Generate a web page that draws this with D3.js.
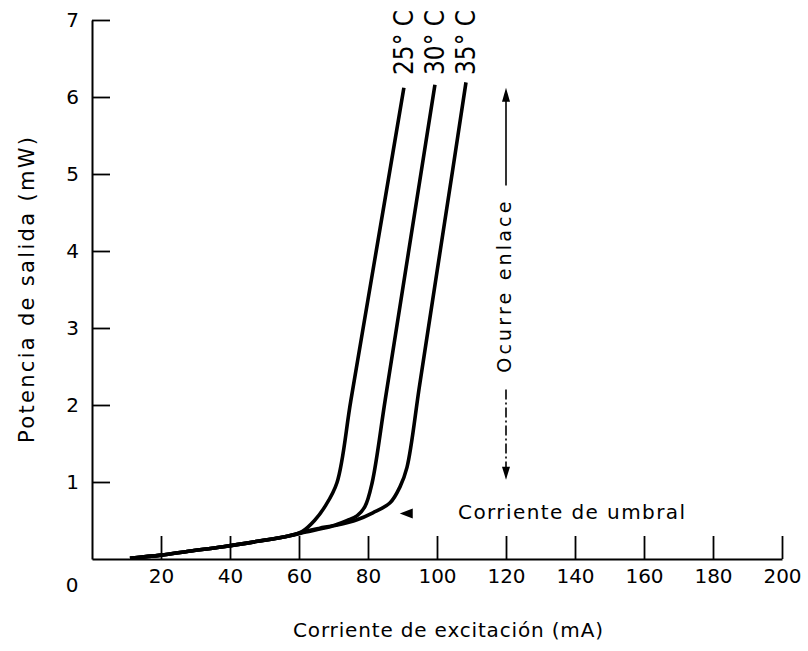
<!DOCTYPE html>
<html>
<head>
<meta charset="utf-8">
<script src="https://cdn.jsdelivr.net/npm/d3@7"></script>
<style>
  body { margin: 0; background: #fff; }
  svg { display: block; }
</style>
</head>
<body>
<script>
// chart values
var currentTicks = [20, 40, 60, 80, 100, 120, 140, 160, 180, 200];
var powerTicks = [1, 2, 3, 4, 5, 6, 7];

var current25 = [11, 20, 28, 38, 48, 57, 61, 64.5, 67.5, 71, 75, 80, 85, 90.4];
var power25   = [0.01, 0.05, 0.1, 0.16, 0.23, 0.3, 0.36, 0.5, 0.68, 0.99, 2.05, 3.37, 4.69, 6.12];

var current30 = [11, 20, 28, 38, 48, 57, 62, 66, 70.4, 74, 76.8, 79.1, 81.2, 85, 90, 95, 99.4];
var power30   = [0.01, 0.05, 0.1, 0.16, 0.23, 0.3, 0.36, 0.4, 0.44, 0.5, 0.56, 0.68, 0.99, 2.07, 3.49, 4.91, 6.16];

var current35 = [11, 20, 28, 38, 48, 57, 62, 69, 76.8, 81.4, 86.4, 89.3, 91.3, 95, 100, 104.5, 108.4];
var power35   = [0.01, 0.05, 0.1, 0.16, 0.23, 0.3, 0.35, 0.42, 0.51, 0.6, 0.73, 0.94, 1.19, 2.27, 3.73, 5.04, 6.19];

var curveNames = ["25° C", "30° C", "35° C"];

var width = 808;
var height = 651;
var font = "DejaVu Sans, Verdana, sans-serif";

var svg = d3.select("body").append("svg")
    .attr("width", width)
    .attr("height", height);

var x = d3.scaleLinear().domain([0, 200]).range([92, 782]);
var y = d3.scaleLinear().domain([0, 7]).range([559, 20]);

// x axis, ticks pointing up into the plot
var xAxis = svg.append("g")
    .attr("transform", "translate(0," + y(0) + ")")
    .call(d3.axisBottom(x).tickValues(currentTicks).tickFormat(d3.format("d"))
        .tickSize(-23).tickSizeOuter(0).tickPadding(10));

// y axis, ticks pointing right
var yAxis = svg.append("g")
    .attr("transform", "translate(" + x(0) + ",0)")
    .call(d3.axisLeft(y).tickValues(powerTicks).tickFormat(d3.format("d"))
        .tickSize(-18).tickSizeOuter(0).tickPadding(13));

[xAxis, yAxis].forEach(function(g) {
    g.select(".domain").attr("stroke", "#000").attr("stroke-width", 2);
    g.selectAll(".tick line").attr("stroke", "#000").attr("stroke-width", 1.8);
    g.selectAll(".tick text")
        .attr("font-family", font)
        .attr("font-size", 20)
        .attr("fill", "#000");
});

// origin label sits in the corner
svg.append("text")
    .attr("x", x(0) - 20)
    .attr("y", y(0) + 33)
    .attr("text-anchor", "middle")
    .attr("font-family", font)
    .attr("font-size", 20)
    .text("0");

// curves
var line = d3.line()
    .x(function(d) { return x(d[0]); })
    .y(function(d) { return y(d[1]); })
    .curve(d3.curveCatmullRom.alpha(0.5));

var series = [
    d3.zip(current25, power25),
    d3.zip(current30, power30),
    d3.zip(current35, power35)
];

svg.selectAll("path.curve")
    .data(series)
    .enter()
    .append("path")
    .attr("class", "curve")
    .attr("d", line)
    .attr("fill", "none")
    .attr("stroke", "#000")
    .attr("stroke-width", 3.6)
    .attr("stroke-linejoin", "round");

// temperature labels above each curve, reading upward
svg.selectAll("text.temp")
    .data(series)
    .enter()
    .append("text")
    .attr("class", "temp")
    .attr("transform", function(d) {
        var last = d[d.length - 1];
        return "translate(" + (x(last[0]) + 9) + ",75) rotate(-90)";
    })
    .attr("font-family", font)
    .attr("font-size", 26)
    .attr("textLength", 65)
    .attr("lengthAdjust", "spacingAndGlyphs")
    .text(function(d, i) { return curveNames[i]; });

// "Ocurre enlace" double arrow at 120 mA
var ax = x(120);
svg.append("line")
    .attr("x1", ax).attr("x2", ax)
    .attr("y1", y(6.05)).attr("y2", y(4.85))
    .attr("stroke", "#000").attr("stroke-width", 1.6);
svg.append("path")
    .attr("d", "M" + ax + "," + y(6.12) + "L" + (ax + 4) + "," + (y(6.12) + 14) + "L" + (ax - 4) + "," + (y(6.12) + 14) + "Z")
    .attr("fill", "#000");
svg.append("line")
    .attr("x1", ax).attr("x2", ax)
    .attr("y1", y(2.2)).attr("y2", y(1.1))
    .attr("stroke", "#000").attr("stroke-width", 1.6)
    .attr("stroke-dasharray", "10,3,2,3");
svg.append("path")
    .attr("d", "M" + ax + "," + y(1.03) + "L" + (ax + 4) + "," + (y(1.03) - 13) + "L" + (ax - 4) + "," + (y(1.03) - 13) + "Z")
    .attr("fill", "#000");
svg.append("text")
    .attr("transform", "translate(" + (ax + 5) + "," + y(2.42) + ") rotate(-90)")
    .attr("font-family", font)
    .attr("font-size", 19)
    .attr("textLength", 171)
    .attr("lengthAdjust", "spacing")
    .text("Ocurre enlace");

// threshold current note
svg.append("path")
    .attr("d", "M" + x(89.2) + "," + y(0.59) + "l13,-5l0,10Z")
    .attr("fill", "#000");
svg.append("text")
    .attr("x", x(106.1))
    .attr("y", y(0.52))
    .attr("font-family", font)
    .attr("font-size", 20)
    .attr("textLength", 227)
    .attr("lengthAdjust", "spacing")
    .text("Corriente de umbral");

// axis titles
svg.append("text")
    .attr("x", 293)
    .attr("y", 637)
    .attr("font-family", font)
    .attr("font-size", 20)
    .attr("textLength", 310)
    .attr("lengthAdjust", "spacing")
    .text("Corriente de excitación (mA)");

svg.append("text")
    .attr("transform", "translate(34,443) rotate(-90)")
    .attr("font-family", font)
    .attr("font-size", 21)
    .attr("textLength", 306)
    .attr("lengthAdjust", "spacing")
    .text("Potencia de salida (mW)");
</script>
</body>
</html>
